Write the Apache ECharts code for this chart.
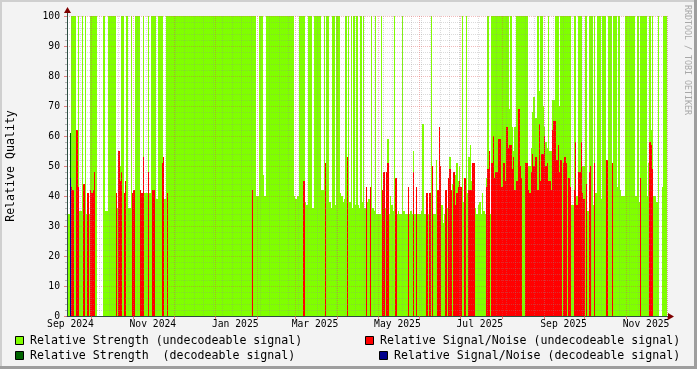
<!DOCTYPE html>
<html><head><meta charset="utf-8">
<script src="https://cdn.jsdelivr.net/npm/echarts@6/dist/echarts.min.js"></script>
<style>html,body{margin:0;padding:0;background:#F3F3F3}#c{width:697px;height:369px}</style>
</head><body><div id="c"></div>
<script>
// ---- categories: one value per day, data starts 13 Sep 2024 ----
const monthKeys = ['2024-09','2024-10','2024-11','2024-12','2025-01','2025-02','2025-03','2025-04','2025-05','2025-06','2025-07','2025-08','2025-09','2025-10','2025-11'];
const firstDayOfData = 13;

// ---- Relative Strength (undecodeable signal), per day ----
const strengthSep24 = [36,34,null,100,100,100,100,37,100,35,35,100,34,100,34,34,34,100];
const strengthOct24 = [100,100,100,100,null,null,null,null,null,100,35,35,100,100,100,100,100,100,38,36,34,50,100,100,36,36,100,36,36,100,41];
const strengthNov24 = [41,100,100,100,100,41,41,100,41,41,41,100,41,100,100,100,100,39,100,100,100,100,37,39,100,100,100,100,100,100];
const strengthDec24 = [100,100,100,100,100,100,100,100,100,100,100,100,100,100,100,100,100,100,100,100,100,100,100,100,100,100,100,100,100,100,100];
const strengthJan25 = [100,100,100,100,100,100,100,100,100,100,100,100,100,100,100,100,100,100,100,100,100,100,100,100,100,100,100,100,100,100,40];
const strengthFeb25 = [40,100,100,100,47,40,100,100,100,100,100,100,100,100,100,100,100,100,100,100,100,100,100,100,100,100,100,40];
const strengthMar25 = [39,40,40,100,100,100,100,38,37,100,100,100,36,36,100,100,100,100,100,42,42,100,40,100,100,38,36,100,100,37,100];
const strengthApr25 = [100,100,41,40,38,39,100,38,100,38,100,36,100,37,100,37,36,100,38,100,36,40,38,39,40,100,36,35,100,34];
const strengthMay25 = [34,34,100,34,34,36,34,59,34,40,37,35,100,36,34,35,34,34,100,35,34,34,34,34,35,34,55,34,34,34,34];
const strengthJun25 = [34,35,64,34,34,34,34,34,100,34,34,34,52,34,34,50,37,31,34,34,36,36,53,40,44,47,47,51,45,50];
const strengthJul25 = [40,100,38,41,100,41,53,57,45,45,35,36,34,37,38,34,41,35,34,46,100,36,34,100,100,100,100,100,100,100,100];
const strengthAug25 = [100,100,100,100,100,69,100,63,55,63,100,100,100,100,100,100,100,100,100,50,50,56,68,73,66,66,100,75,100,100,70];
const strengthSep25 = [63,58,56,100,55,55,72,72,100,100,100,70,100,100,100,100,100,100,100,100,37,37,100,100,40,100,100,100,50,50];
const strengthOct25 = [100,100,35,100,100,100,37,100,41,100,100,100,39,100,100,100,44,100,100,100,44,100,100,100,43,100,42,40,40,40,100];
const strengthNov25 = [100,100,100,100,100,100,40,40,100,38,100,100,100,100,100,40,51,100,62,100,40,40,38,100,null,null,43,100,100,100];

// ---- Relative Signal/Noise (undecodeable signal), per day ----
const snrSep24 = [0,0,0,43,42,0,0,62,43,0,0,0,44,0,0,41,0,42];
const snrOct24 = [41,42,48,0,null,null,null,null,null,0,0,0,0,0,0,0,0,0,41,0,55,45,48,0,41,45,0,0,0,0,41];
const snrNov24 = [42,0,0,0,0,42,41,53,0,0,0,48,0,0,42,42,0,0,0,0,0,51,53,0,0,41,0,0,0,0];
const snrDec24 = [0,0,0,0,0,0,0,0,0,0,0,0,0,0,0,0,0,0,0,0,0,0,0,0,0,0,0,0,0,0,0];
const snrJan25 = [0,0,0,0,0,0,0,0,0,0,0,0,0,0,0,0,0,0,0,0,0,0,0,0,0,0,0,42,0,0,0];
const snrFeb25 = [0,0,0,0,0,0,0,0,0,0,0,0,0,0,0,0,0,0,0,0,0,0,0,0,0,0,0,0];
const snrMar25 = [0,0,0,0,0,0,45,0,0,0,0,0,0,0,0,0,0,0,0,0,0,0,51,0,0,0,0,0,0,0,0];
const snrApr25 = [0,0,0,0,0,0,0,53,0,0,0,0,0,0,0,0,0,0,0,0,0,43,0,0,43,0,0,0,0,0];
const snrMay25 = [0,0,0,42,48,0,48,51,0,0,0,0,0,46,0,0,0,0,0,0,0,0,43,0,0,0,48,0,43,0,0];
const snrJun25 = [0,0,0,0,0,41,0,41,0,50,0,0,0,42,63,50,0,0,0,42,0,46,49,42,0,48,37,41,43,45];
const snrJul25 = [43,0,0,46,0,0,42,42,42,51,51,0,0,0,0,0,0,0,0,43,49,55,0,51,60,46,48,48,59,59,43];
const snrAug25 = [43,51,45,63,56,57,57,49,53,42,45,45,69,50,46,0,0,51,51,42,41,48,54,50,53,53,42,64,45,54,54];
const snrSep25 = [60,50,51,45,45,42,62,65,65,52,57,48,52,0,51,53,51,0,46,43,0,0,42,58,37,48,48,58,41,39];
const snrOct25 = [0,44,0,48,50,0,0,51,0,0,0,0,0,0,0,0,52,0,0,0,51,0,0,0,0,0,0,0,0,0,0];
const snrNov25 = [0,0,0,0,0,0,0,0,0,0,46,0,0,0,0,0,0,58,57,49,0,0,0,0,null,null,0,0,0,0];

// ---- decodeable signal (only seen in Sep 2024) ----
const strengthDecodeableSep24 = [0,0,61,0,0,0,0,0,0,0,0,0,0,0,0,0,0,0];
const snrDecodeableSep24 = [0,0,46,0,0,0,0,0,0,0,0,0,0,0,0,0,0,0];

// ---- axis labels ----
const xTickDates = ['2024-09-15','2024-11-15','2025-01-15','2025-03-15','2025-05-15','2025-07-15','2025-09-15','2025-11-15'];
const xTickLabels = ['Sep 2024','Nov 2024','Jan 2025','Mar 2025','May 2025','Jul 2025','Sep 2025','Nov 2025'];

const strengthMonths = [strengthSep24,strengthOct24,strengthNov24,strengthDec24,strengthJan25,strengthFeb25,strengthMar25,strengthApr25,strengthMay25,strengthJun25,strengthJul25,strengthAug25,strengthSep25,strengthOct25,strengthNov25];
const snrMonths = [snrSep24,snrOct24,snrNov24,snrDec24,snrJan25,snrFeb25,snrMar25,snrApr25,snrMay25,snrJun25,snrJul25,snrAug25,snrSep25,snrOct25,snrNov25];

const pad = n => (n < 10 ? '0' : '') + n;
const dates = [];
strengthMonths.forEach((arr, m) => {
  const start = m === 0 ? firstDayOfData : 1;
  arr.forEach((_, j) => dates.push(monthKeys[m] + '-' + pad(start + j)));
});
const strength = [].concat(...strengthMonths);
const snr = [].concat(...snrMonths);

const toPts = arr => arr.map((v, i) => [i, v]);

function columns(color) {
  return function (params, api) {
    const v = api.value(1);
    if (!(v > 0)) return;
    const i = api.value(0);
    const top = api.coord([i, v]);
    const bottom = api.coord([i, 0]);
    const bw = api.size([1, 0])[0];
    const x0 = Math.round(top[0] - bw / 2);
    const x1 = Math.round(top[0] + bw / 2);
    const y0 = Math.round(top[1]);
    return { type: 'rect', shape: { x: x0, y: y0, width: Math.max(1, x1 - x0), height: Math.round(bottom[1]) - y0 }, style: { fill: color } };
  };
}

const GREEN = '#80FF00', DKGREEN = '#006400', RED = '#FF0000', BLUE = '#00008B';
const FONT = 'DejaVu Sans Mono';
const isMonthStart = (i, v) => /-01$/.test(v);
const isMonday = (i, v) => new Date(v + 'T00:00:00Z').getUTCDay() === 1;
const isLabelDay = (i, v) => xTickDates.indexOf(v) >= 0;

const GL = 67, GT = 16, GW = 600, GH = 300;
const MAJOR = 'rgba(222,80,80,0.38)', MINOR = 'rgba(143,143,143,0.32)';

const chart = echarts.init(document.getElementById('c'));
chart.setOption({
  animation: false,
  backgroundColor: '#F3F3F3',
  grid: { left: GL, top: GT, width: GW, height: GH, show: true, backgroundColor: '#FFFFFF', borderWidth: 0, containLabel: false, outerBoundsMode: 'none' },
  xAxis: [{
    type: 'category', data: dates, boundaryGap: true, z: 10,
    axisLine: { lineStyle: { color: '#2C4D43', width: 1 } },
    axisTick: { show: true, interval: isMonthStart, length: 3, lineStyle: { color: 'rgba(222,80,80,0.7)' } },
    axisLabel: { interval: isLabelDay,
      formatter: v => xTickLabels[xTickDates.indexOf(v)], margin: 3,
      fontFamily: FONT, fontSize: 9.7, color: '#000' },
    splitLine: { show: true, interval: isMonthStart, lineStyle: { color: MAJOR, type: [1, 1], width: 1 } }
  }, {
    type: 'category', data: dates, boundaryGap: true, z: 9, gridIndex: 0, position: 'bottom',
    axisLine: { show: false }, axisTick: { show: false }, axisLabel: { show: false },
    splitLine: { show: true, interval: isMonday, lineStyle: { color: MINOR, type: [1, 1], width: 1 } }
  }],
  yAxis: {
    type: 'value', min: 0, max: 100, interval: 10, z: 10,
    axisLine: { show: true, lineStyle: { color: '#2C4D43' } },
    axisTick: { show: true, length: 3, lineStyle: { color: 'rgba(222,80,80,0.7)' } },
    minorTick: { show: true, splitNumber: 5, length: 2, lineStyle: { color: 'rgba(143,143,143,0.6)' } },
    axisLabel: { margin: 7, fontFamily: FONT, fontSize: 9.7, color: '#000' },
    splitLine: { show: true, lineStyle: { color: MAJOR, type: [1, 1], width: 1 } },
    minorSplitLine: { show: true, lineStyle: { color: MINOR, type: [1, 1], width: 1 } },
    name: 'Relative Quality', nameLocation: 'middle', nameGap: 50, nameRotate: 90,
    nameTextStyle: { fontFamily: FONT, fontSize: 11.6, color: '#000' }
  },
  series: [
    { type: 'custom', name: 'Relative Strength (undecodeable signal)', renderItem: columns(GREEN), data: toPts(strength), encode: { x: 0, y: 1 }, clip: true, z: 2 },
    { type: 'custom', name: 'Relative Strength  (decodeable signal)', renderItem: columns(DKGREEN), data: toPts(strengthDecodeableSep24), encode: { x: 0, y: 1 }, clip: true, z: 3 },
    { type: 'custom', name: 'Relative Signal/Noise (undecodeable signal)', renderItem: columns(RED), data: toPts(snr), encode: { x: 0, y: 1 }, clip: true, z: 4 },
    { type: 'custom', name: 'Relative Signal/Noise (decodeable signal)', renderItem: columns(BLUE), data: toPts(snrDecodeableSep24), encode: { x: 0, y: 1 }, clip: true, z: 5 }
  ],
  graphic: [
    { type: 'rect', shape: { x: 0, y: 0, width: 697, height: 2 }, style: { fill: '#CFCFCF' }, silent: true },
    { type: 'rect', shape: { x: 0, y: 0, width: 2, height: 369 }, style: { fill: '#CFCFCF' }, silent: true },
    { type: 'rect', shape: { x: 0, y: 366, width: 697, height: 3 }, style: { fill: '#9E9E9E' }, silent: true },
    { type: 'rect', shape: { x: 694, y: 0, width: 3, height: 369 }, style: { fill: '#9E9E9E' }, silent: true },
    { type: 'line', shape: { x1: GL + 0.5, y1: GT, x2: GL + 0.5, y2: GT - 4 }, style: { stroke: '#2C4D43', lineWidth: 1 }, z: 20 },
    { type: 'polygon', shape: { points: [[GL - 3, GT - 3], [GL + 4, GT - 3], [GL + 0.5, GT - 9]] }, style: { fill: '#7F0000' }, z: 20 },
    { type: 'line', shape: { x1: GL + GW, y1: GT + GH + 0.5, x2: GL + GW + 2, y2: GT + GH + 0.5 }, style: { stroke: '#2C4D43', lineWidth: 1 }, z: 20 },
    { type: 'polygon', shape: { points: [[GL + GW + 1, GT + GH - 3], [GL + GW + 1, GT + GH + 4], [GL + GW + 7, GT + GH + 0.5]] }, style: { fill: '#7F0000' }, z: 20 },
    { type: 'text', x: 687, y: 60, rotation: -Math.PI / 2, style: { text: 'RRDTOOL / TOBI OETIKER', fontFamily: FONT, fontSize: 8.3, fill: '#A8A8A8', align: 'center', verticalAlign: 'middle' }, z: 20 },
    { type: 'rect', shape: { x: 15.5, y: 336.5, width: 8, height: 8 }, style: { fill: GREEN, stroke: '#000', lineWidth: 1 }, z: 20 },
    { type: 'text', x: 30, y: 341, style: { text: 'Relative Strength (undecodeable signal)', fontFamily: FONT, fontSize: 11.6, fill: '#000', verticalAlign: 'middle' }, z: 20 },
    { type: 'rect', shape: { x: 15.5, y: 351.5, width: 8, height: 8 }, style: { fill: DKGREEN, stroke: '#000', lineWidth: 1 }, z: 20 },
    { type: 'text', x: 30, y: 356, style: { text: 'Relative Strength  (decodeable signal)', fontFamily: FONT, fontSize: 11.6, fill: '#000', verticalAlign: 'middle' }, z: 20 },
    { type: 'rect', shape: { x: 365.5, y: 336.5, width: 8, height: 8 }, style: { fill: RED, stroke: '#000', lineWidth: 1 }, z: 20 },
    { type: 'text', x: 380, y: 341, style: { text: 'Relative Signal/Noise (undecodeable signal)', fontFamily: FONT, fontSize: 11.6, fill: '#000', verticalAlign: 'middle' }, z: 20 },
    { type: 'rect', shape: { x: 379.5, y: 351.5, width: 8, height: 8 }, style: { fill: BLUE, stroke: '#000', lineWidth: 1 }, z: 20 },
    { type: 'text', x: 394, y: 356, style: { text: 'Relative Signal/Noise (decodeable signal)', fontFamily: FONT, fontSize: 11.6, fill: '#000', verticalAlign: 'middle' }, z: 20 }
  ]
});
</script>
</body></html>
